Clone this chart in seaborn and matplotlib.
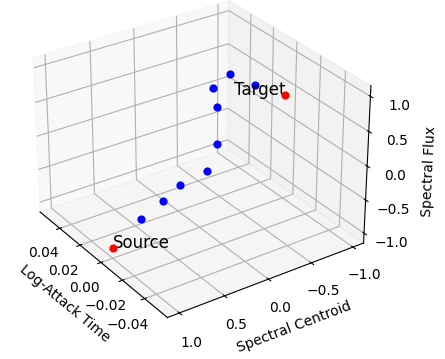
import matplotlib
matplotlib.use("Agg")
import matplotlib.pyplot as plt
import seaborn as sns

# Values: Source first, Target last, morph steps between.
log_attack_time = [-0.0003, 0.0045, 0.002, -0.0007, -0.0079, 0.0007, 0.0225, 0.0287, 0.0242, -0.0055, -0.0349]
spectral_centroid = [0.9935, 0.6205, 0.3965, 0.2345, 0.0205, -0.2075, -0.4935, -0.5305, -0.6725, -0.5655, -0.5045]
spectral_flux = [-1.0, -0.8, -0.6, -0.4, -0.2, 0.0, 0.2, 0.4, 0.6, 0.8, 1.0]
x_ticks = [-0.04, -0.02, 0, 0.02, 0.04]
unit_ticks = [-1, -0.5, 0, 0.5, 1]

sns.set_palette(["blue", "red"])
blue, red = sns.color_palette()

fig = plt.figure(figsize=(4.45, 3.59), dpi=100)
ax = fig.add_axes([0.0225, 0.051, 0.83, 1.029], projection="3d")
ax.view_init(elev=29, azim=145.5)

ax.scatter(log_attack_time[1:-1], spectral_centroid[1:-1], spectral_flux[1:-1],
           color=blue, s=24, depthshade=False)
ax.scatter([log_attack_time[0], log_attack_time[-1]],
           [spectral_centroid[0], spectral_centroid[-1]],
           [spectral_flux[0], spectral_flux[-1]],
           color=red, s=24, depthshade=False)
ax.text(log_attack_time[0], spectral_centroid[0], spectral_flux[0], "Source",
        fontsize=12, ha="left", va="baseline")
ax.text(log_attack_time[-1], spectral_centroid[-1], spectral_flux[-1], "Target",
        fontsize=12, ha="right", va="baseline")

ax.set_xlim(-0.06, 0.06)
ax.set_ylim(-1.13, 1.13)
ax.set_zlim(-1.15, 1.15)
ax.set_xticks(x_ticks)
ax.set_yticks(unit_ticks)
ax.set_zticks(unit_ticks)
ax.set_xlabel("Log-Attack Time")
ax.set_ylabel("Spectral Centroid")
ax.set_zlabel("Spectral Flux")
fig.savefig("out.png", dpi=100)
